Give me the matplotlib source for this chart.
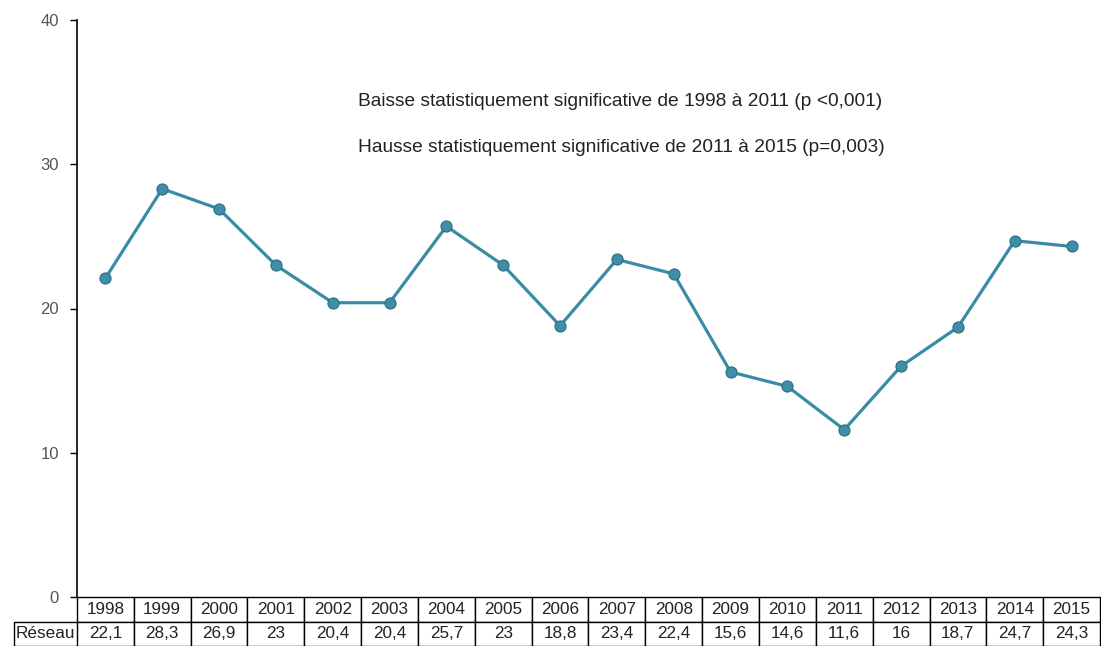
import matplotlib.pyplot as plt

plt.rcParams["font.family"] = ["Liberation Sans", "DejaVu Sans"]

years = ["1998", "1999", "2000", "2001", "2002", "2003", "2004", "2005", "2006",
         "2007", "2008", "2009", "2010", "2011", "2012", "2013", "2014", "2015"]
reseau = [22.1, 28.3, 26.9, 23, 20.4, 20.4, 25.7, 23, 18.8,
          23.4, 22.4, 15.6, 14.6, 11.6, 16, 18.7, 24.7, 24.3]
row_label = "Réseau"
notes = ["Baisse statistiquement significative de 1998 à 2011 (p <0,001)",
         "Hausse statistiquement significative de 2011 à 2015 (p=0,003)"]


def fmt(v):
    s = f"{v:g}"
    return s.replace(".", ",")


fig = plt.figure(figsize=(11.01, 6.46), dpi=100)
ax = fig.add_axes([77 / 1101, 49 / 646, 1023 / 1101, 577 / 646])

x = list(range(len(years)))
ax.plot(x, reseau, color="#3a8ca6", lw=2.3, marker="o", ms=8,
        markerfacecolor="#3f8ea8", markeredgecolor="#2c6f85", markeredgewidth=0.8)

ax.set_xlim(-0.5, len(years) - 0.5)
ax.set_ylim(0, 40)
ax.set_yticks([0, 10, 20, 30, 40])
ax.tick_params(axis="y", length=5, width=1, labelsize=12, labelcolor="#555555",
               pad=8, direction="out")
ax.set_xticks([])
for s in ["top", "right", "bottom"]:
    ax.spines[s].set_visible(False)
ax.spines["left"].set_linewidth(1.2)

for i, t in enumerate(notes):
    ax.text(0.275, 0.859 - i * 0.08, t, transform=ax.transAxes,
            fontsize=13.8, color="#222222", va="center", ha="left")

tbl = ax.table(cellText=[years, [fmt(v) for v in reseau]],
               rowLabels=["", row_label],
               cellLoc="center", rowLoc="center",
               bbox=[0, -49 / 577, 1, 49 / 577])
tbl.auto_set_font_size(False)
tbl.set_fontsize(12.3)
# keep the label column at a fixed width instead of auto-sizing it
tbl._autoColumns = [c for c in tbl._autoColumns if c != -1]
for (r, c), cell in tbl.get_celld().items():
    cell.set_linewidth(1)
    cell.get_text().set_color("#222222")
    if c == -1:
        cell.set_width(63 / 1023)
        if r == 0:
            cell.visible_edges = ""
        else:
            cell.visible_edges = "TBL"

fig.savefig("out.png", dpi=100)
